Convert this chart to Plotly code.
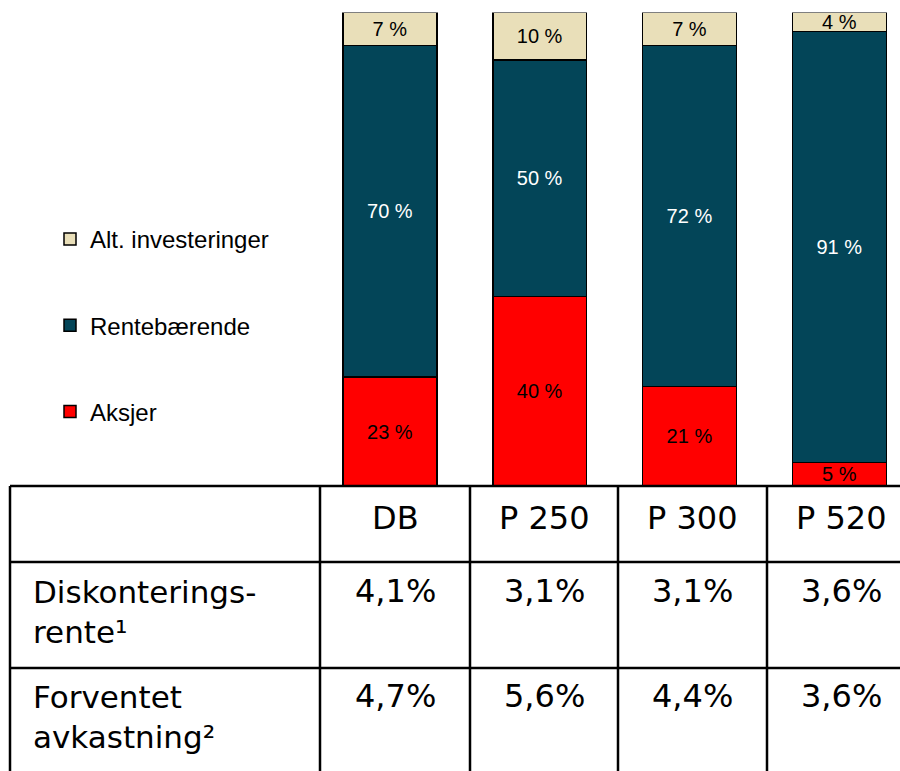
import plotly.graph_objects as go

# Portfolio allocation per scheme (percent)
schemes = ["DB", "P 250", "P 300", "P 520"]
aksjer = [23, 40, 21, 5]
rentebaerende = [70, 50, 72, 91]
alt_investeringer = [7, 10, 7, 4]

# Key rates shown in the table under the bars
row_labels = ["Diskonterings-<br>rente¹", "Forventet<br>avkastning²"]
diskonteringsrente = ["4,1%", "3,1%", "3,1%", "3,6%"]
forventet_avkastning = ["4,7%", "5,6%", "4,4%", "3,6%"]

W, H = 900, 771
bar_font = "Liberation Sans, Arial, sans-serif"
table_font = "Verdana, DejaVu Sans, sans-serif"


def py(px):
    """Pixel row (from top) to paper y."""
    return (H - px) / H


def pxx(px):
    return px / W


# name, values, fill, label colour, legend position (top first)
series = [
    ("Aksjer", aksjer, "#FF0000", "black", 3),
    ("Rentebærende", rentebaerende, "#034558", "white", 2),
    ("Alt. investeringer", alt_investeringer, "#E9DFB9", "black", 1),
]

fig = go.Figure()
for name, vals, color, tcolor, rank in series:
    fig.add_trace(go.Bar(
        x=schemes, y=vals, name=name,
        text=[f"{v} %" for v in vals],
        textposition="inside", insidetextanchor="middle",
        constraintext="none", cliponaxis=False,
        textfont=dict(family=bar_font, size=20, color=tcolor),
        marker=dict(color=color, line=dict(color="black", width=1.5)),
        legendgroup=f"g{rank}", legendrank=rank,
    ))

# Table grid: column edges and row edges in pixels
col_edges = [10, 320, 470, 618, 767, 915]
row_edges = [486, 562, 668, 780]
line = dict(color="black", width=2.5)
shapes = []
for yy in row_edges[:-1]:
    shapes.append(dict(type="line", xref="paper", yref="paper",
                       x0=pxx(col_edges[0]), x1=1.0, y0=py(yy), y1=py(yy), line=line))
for xx in col_edges[:-1]:
    shapes.append(dict(type="line", xref="paper", yref="paper",
                       x0=pxx(xx), x1=pxx(xx), y0=py(row_edges[0]), y1=0.0, line=line))

annotations = []
lfont = dict(family=table_font, size=31, color="black")
vfont = dict(family=table_font, size=32, color="black")
col_centers = [(col_edges[k] + col_edges[k + 1]) / 2 for k in range(1, 5)]
# header row
for name, cx in zip(schemes, col_centers):
    annotations.append(dict(text=name, x=pxx(cx), y=py(497), xref="paper", yref="paper",
                            xanchor="center", yanchor="top", showarrow=False, font=vfont))
# body rows
row_tops = [572, 677]
for label, values, top in zip(row_labels, [diskonteringsrente, forventet_avkastning], row_tops):
    annotations.append(dict(text=label, x=pxx(31), y=py(top), xref="paper", yref="paper",
                            xanchor="left", yanchor="top", align="left", showarrow=False, font=lfont))
    for v, cx in zip(values, col_centers):
        annotations.append(dict(text=v, x=pxx(cx), y=py(top - 2), xref="paper", yref="paper",
                                xanchor="center", yanchor="top", showarrow=False, font=vfont))

fig.update_layout(
    width=W, height=H,
    margin=dict(l=0, r=0, t=0, b=0),
    paper_bgcolor="white", plot_bgcolor="white",
    barmode="stack", bargap=0.373,
    xaxis=dict(
        domain=[315 / W, 1.0], range=[-0.5, 3.405],
        showticklabels=False, ticks="", showgrid=False, zeroline=False, showline=False,
        fixedrange=True,
    ),
    yaxis=dict(
        domain=[py(486), py(12.5)], range=[0, 100],
        visible=False, fixedrange=True,
    ),
    showlegend=True,
    legend=dict(
        x=pxx(50), y=py(217), xanchor="left", yanchor="top",
        traceorder="grouped", tracegroupgap=52,
        font=dict(family=bar_font, size=24, color="black"),
        bgcolor="rgba(0,0,0,0)", borderwidth=0,
    ),
    shapes=shapes,
    annotations=annotations,
)

fig.write_html("out.html")
